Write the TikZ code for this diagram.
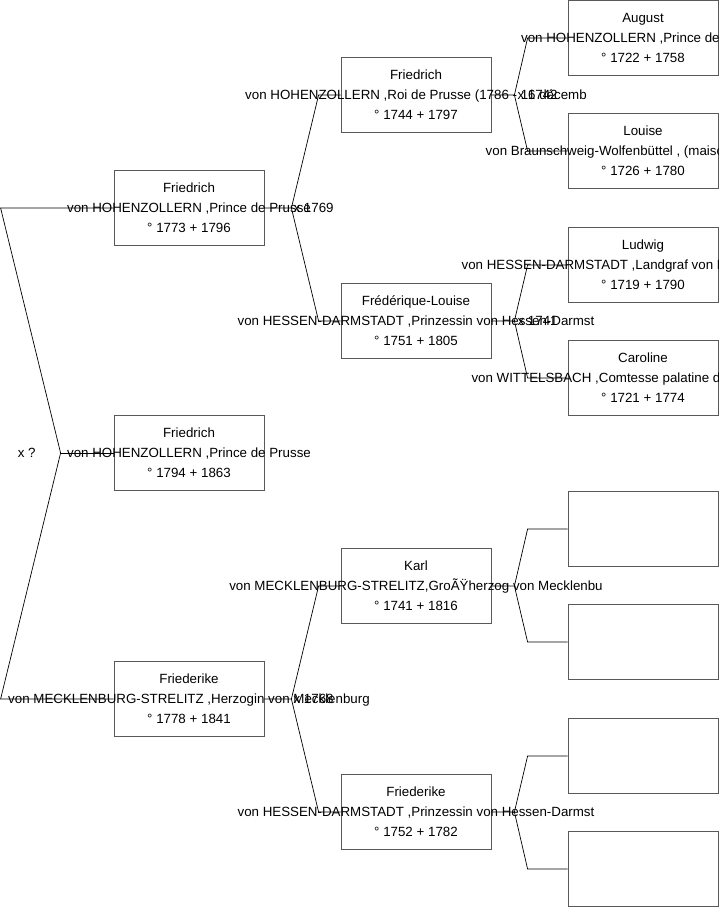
\documentclass[tikz,border=0pt]{standalone}
\usepackage{fontspec}
\setmainfont{Liberation Sans}
\usetikzlibrary{positioning}

% three centred lines that may run past the box
\newcommand{\ancestor}[3]{\makebox[0pt]{#1}\\\makebox[0pt]{#2}\\\makebox[0pt]{#3}}

\begin{document}
\begin{tikzpicture}[
  x=1pt, y=-1pt,
  font=\fontsize{13.33}{20}\selectfont,
  person/.style={draw=black!65, line width=0.8pt, minimum width=150pt, minimum height=75pt, align=center, inner sep=0pt},
  link/.style={draw=black, line width=0.7pt},
  wed/.style={anchor=west, inner sep=0pt}
]
\useasboundingbox (0,0) rectangle (719,908);
\clip (0,0) rectangle (719,908);
% generation 1
\node[person] (f73) at (189,208) {\ancestor{Friedrich}{von HOHENZOLLERN ,Prince de Prusse}{° 1773 + 1796}};
\node[person] (f94) at (189,453) {\ancestor{Friedrich}{von HOHENZOLLERN ,Prince de Prusse}{° 1794 + 1863}};
\node[person] (fk78) at (189,699) {\ancestor{Friederike}{von MECKLENBURG-STRELITZ ,Herzogin von Mecklenburg}{° 1778 + 1841}};
% generation 2
\node[person] (f44) at (416,95) {\ancestor{Friedrich}{von HOHENZOLLERN ,Roi de Prusse (1786 - 16 décemb}{° 1744 + 1797}};
\node[person] (fl51) at (416,321) {\ancestor{Frédérique-Louise}{von HESSEN-DARMSTADT ,Prinzessin von Hessen-Darmst}{° 1751 + 1805}};
\node[person] (k41) at (416,586) {\ancestor{Karl}{von MECKLENBURG-STRELITZ,GroÃŸherzog von Mecklenbu}{° 1741 + 1816}};
\node[person] (fk52) at (416,812) {\ancestor{Friederike}{von HESSEN-DARMSTADT ,Prinzessin von Hessen-Darmst}{° 1752 + 1782}};
% generation 3
\node[person] (aug) at (643,38) {\ancestor{August}{von HOHENZOLLERN ,Prince de Prusse}{° 1722 + 1758}};
\node[person] (lou) at (643,151) {\ancestor{Louise}{von Braunschweig-Wolfenbüttel , (maison de Bevern)}{° 1726 + 1780}};
\node[person] (lud) at (643,265) {\ancestor{Ludwig}{von HESSEN-DARMSTADT ,Landgraf von Hessen-Darmstad}{° 1719 + 1790}};
\node[person] (car) at (643,378) {\ancestor{Caroline}{von WITTELSBACH ,Comtesse palatine de Deux-Ponts-B}{° 1721 + 1774}};
\node[person] (e1) at (643,529) {};
\node[person] (e2) at (643,642) {};
\node[person] (e3) at (643,756) {};
\node[person] (e4) at (643,869) {};

% left fork
\coordinate (t0) at ([xshift=-113pt]f73.west);
\coordinate (b0) at ([xshift=-113pt]fk78.west);
\coordinate (j0) at ([xshift=-53pt]f94.west);
\draw[link] (f73.west) -- (t0) -- (j0) -- (b0) -- (fk78.west);
\draw[link] (j0) -- (f94.west);
\node[wed] (w0) at ([xshift=-43pt]j0) {x ?};

% forks to the parents
\coordinate[right=27pt of f73] (j1);
\draw[link] (f73.east) -- (j1) -- ([xshift=-22pt]f44.west) -- (f44.west);
\draw[link] (j1) -- ([xshift=-22pt]fl51.west) -- (fl51.west);
\node[wed] (w1) at ([xshift=2pt]j1) {x 1769};

\coordinate[right=27pt of fk78] (j2);
\draw[link] (fk78.east) -- (j2) -- ([xshift=-22pt]k41.west) -- (k41.west);
\draw[link] (j2) -- ([xshift=-22pt]fk52.west) -- (fk52.west);
\node[wed] (w2) at ([xshift=2pt]j2) {x 1768};

\coordinate[right=23pt of f44] (j3);
\draw[link] (f44.east) -- (j3) -- ([xshift=-40pt]aug.west) -- (aug.west);
\draw[link] (j3) -- ([xshift=-40pt]lou.west) -- (lou.west);
\node[wed] (w3) at ([xshift=3pt]j3) {x 1742};

\coordinate[right=23pt of fl51] (j4);
\draw[link] (fl51.east) -- (j4) -- ([xshift=-40pt]lud.west) -- (lud.west);
\draw[link] (j4) -- ([xshift=-40pt]car.west) -- (car.west);
\node[wed] (w4) at ([xshift=3pt]j4) {x 1741};

\coordinate[right=23pt of k41] (j5);
\draw[link] (k41.east) -- (j5) -- ([xshift=-40pt]e1.west) -- (e1.west);
\draw[link] (j5) -- ([xshift=-40pt]e2.west) -- (e2.west);

\coordinate[right=23pt of fk52] (j6);
\draw[link] (fk52.east) -- (j6) -- ([xshift=-40pt]e3.west) -- (e3.west);
\draw[link] (j6) -- ([xshift=-40pt]e4.west) -- (e4.west);
\end{tikzpicture}
\end{document}
